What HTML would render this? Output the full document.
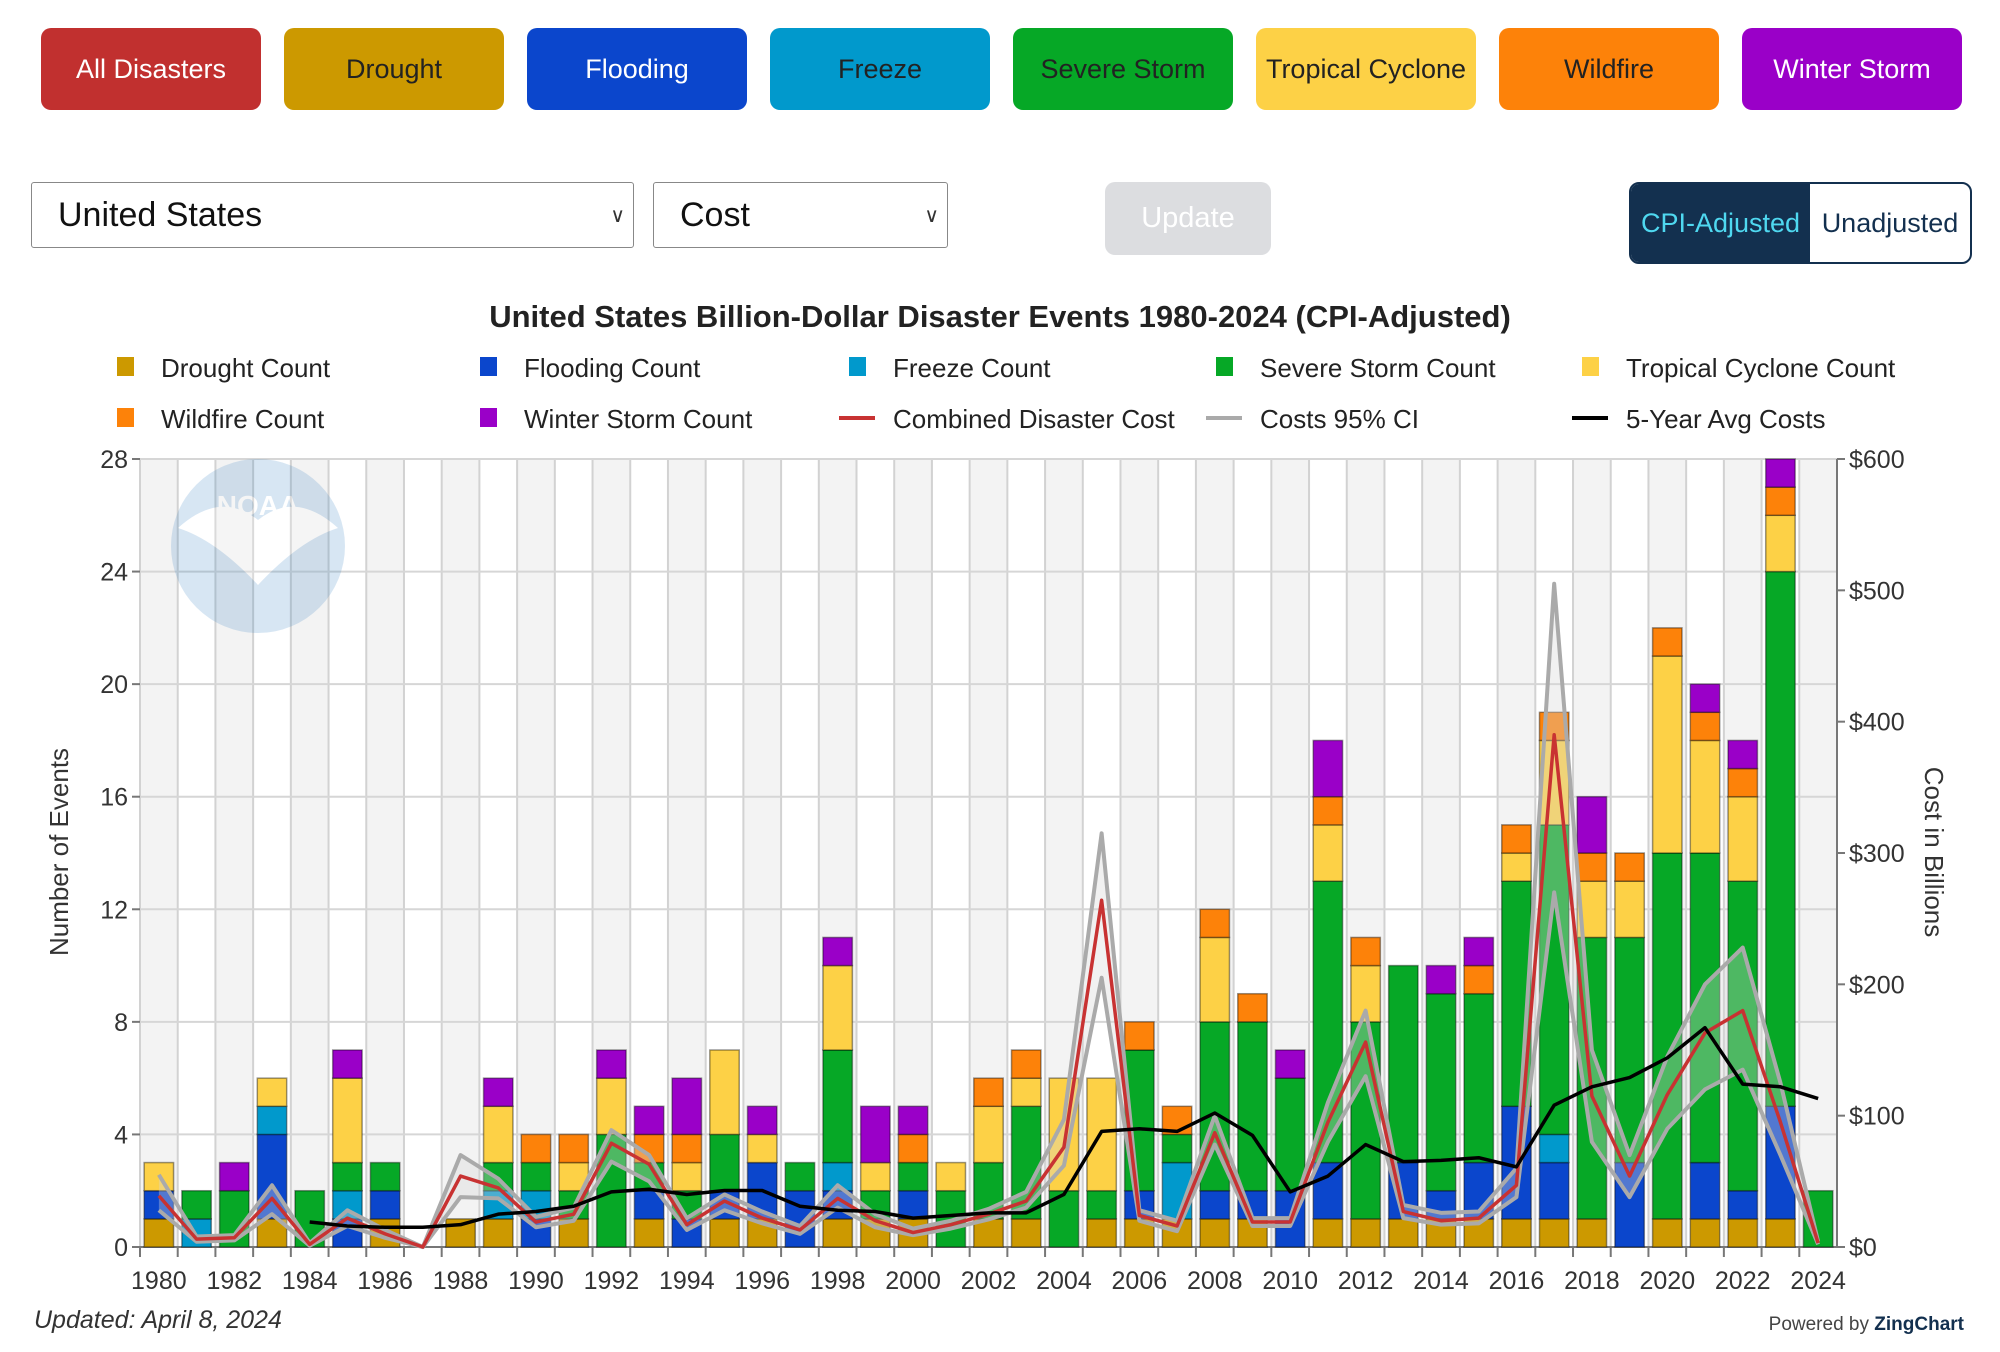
<!DOCTYPE html>
<html><head><meta charset="utf-8"><style>
body{margin:0;width:2000px;height:1352px;background:#fff;font-family:"Liberation Sans",sans-serif;position:relative;overflow:hidden}
.btn{position:absolute;top:28px;height:82px;width:220px;border-radius:10px;display:flex;align-items:center;justify-content:center;font-size:27px;color:#222}
.sel{position:absolute;top:182px;height:66px;border:1.5px solid #888;border-radius:3px;box-sizing:border-box;font-size:34px;display:flex;align-items:center;padding-left:26px;color:#111}
.sel span.ar{position:absolute;right:8px;font-size:20px;color:#333}
</style></head><body>
<div class="btn" style="left:41px;background:#c1302f;color:#fff">All Disasters</div>
<div class="btn" style="left:284px;background:#cc9900">Drought</div>
<div class="btn" style="left:527px;background:#0b46cc;color:#fff">Flooding</div>
<div class="btn" style="left:770px;background:#0199cc">Freeze</div>
<div class="btn" style="left:1013px;background:#06a826">Severe Storm</div>
<div class="btn" style="left:1256px;background:#fdd146">Tropical Cyclone</div>
<div class="btn" style="left:1499px;background:#fd8209">Wildfire</div>
<div class="btn" style="left:1742px;background:#9a00c8;color:#fff">Winter Storm</div>
<div class="sel" style="left:31px;width:603px">United States<span class="ar">&#8744;</span></div>
<div class="sel" style="left:653px;width:295px">Cost<span class="ar">&#8744;</span></div>
<div style="position:absolute;left:1105px;top:182px;width:166px;height:73px;background:#dcdde0;border-radius:10px;color:#fff;font-size:29px;display:flex;align-items:center;justify-content:center">Update</div>
<div style="position:absolute;left:1629px;top:182px;width:343px;height:82px;border:2px solid #13304f;border-radius:10px;box-sizing:border-box;overflow:hidden;display:flex;font-size:27px">
<div style="width:179px;background:#13304f;color:#4fd8f0;display:flex;align-items:center;justify-content:center">CPI-Adjusted</div>
<div style="flex:1;color:#13304f;display:flex;align-items:center;justify-content:center">Unadjusted</div></div>
<svg id="ch" width="2000" height="1352" style="position:absolute;left:0;top:0" font-family="Liberation Sans, sans-serif"></svg>
<script>
const years=[];for(let y=1980;y<=2024;y++)years.push(y);
const drought=[1,0,0,1,0,0,1,0,1,1,0,1,0,1,0,1,1,0,1,1,1,0,1,1,0,1,1,1,1,1,0,1,1,1,1,1,1,1,1,0,1,1,1,1,0];
const flooding=[1,0,0,3,0,1,1,0,0,0,1,0,0,1,1,1,2,2,1,0,1,0,0,0,0,0,1,0,1,1,2,2,0,2,1,2,4,2,0,3,0,2,1,4,0];
const freeze=[0,1,0,1,0,1,0,0,0,1,1,0,0,0,0,0,0,0,1,0,0,0,0,0,0,0,0,2,0,0,0,0,0,0,0,0,0,1,0,0,0,0,0,0,0];
const storm=[0,1,2,0,2,1,1,0,0,1,1,1,4,1,1,2,0,1,4,1,1,2,2,4,2,1,5,1,6,6,4,10,7,7,7,6,8,11,10,8,13,11,11,19,2];
const tropical=[1,0,0,1,0,3,0,0,0,2,0,1,2,0,1,3,1,0,3,1,0,1,2,1,4,4,0,0,3,0,0,2,2,0,0,0,1,3,2,2,7,4,3,2,0];
const wildfire=[0,0,0,0,0,0,0,0,0,0,1,1,0,1,1,0,0,0,0,0,1,0,1,1,0,0,1,1,1,1,0,1,1,0,0,1,1,1,1,1,1,1,1,1,0];
const winter=[0,0,1,0,0,1,0,0,0,1,0,0,1,1,2,0,1,0,1,2,1,0,0,0,0,0,0,0,0,0,1,2,0,0,1,1,0,0,2,0,0,1,1,1,0];
const cost=[39,6,7,37,2,22,10,0,54,45,19,25,79,63,17,35,22,13,37,20,11,17,25,35,76,264,24,16,87,19,19,95,156,27,20,22,47,390,115,54,116,163,180,95,3];
const costHi=[55,8,9,47,3,28,13,0,70,52,23,30,89,70,22,40,27,16,47,25,14,20,29,42,97,315,28,20,100,22,22,110,180,32,26,27,60,505,150,70,145,200,228,125,4];
const costLo=[28,4,5,25,1,16,7,0,38,37,15,20,65,50,13,28,18,10,30,15,9,14,21,30,62,205,20,12,78,16,16,80,130,22,17,18,38,270,80,38,90,120,135,70,2];
const avg5=[null,null,null,null,19,16,15,15,17,25,27,31,42,44,40,43,43,31,28,27,22,24,26,26,40,88,90,88,102,85,42,54,78,65,66,68,61,108,122,129,144,167,124,122,113];
const seriesNames=['Drought','Flooding','Freeze','Severe Storm','Tropical Cyclone','Wildfire','Winter Storm'];
const colors=['#cc9900','#0b46cc','#0199cc','#06a826','#fdd146','#fd8209','#9a00c8'];
const stacks=[drought,flooding,freeze,storm,tropical,wildfire,winter];
const yTicks=[0,4,8,12,16,20,24,28];
const cTicks=[0,100,200,300,400,500,600];

const NS='http://www.w3.org/2000/svg',svg=document.getElementById('ch');
function el(t,a,p){const e=document.createElementNS(NS,t);for(const k in a)e.setAttribute(k,a[k]);(p||svg).appendChild(e);return e;}
function txt(s,a,p){const e=el('text',a,p);e.textContent=s;return e;}
const L=140,R=1837,T=459,B=1247,slot=(R-L)/years.length;
const xc=i=>L+slot*(i+0.5);
const yc=v=>B-(v/28)*(B-T);
const yr=v=>B-(v/600)*(B-T);

const ti=txt('United States Billion-Dollar Disaster Events 1980-2024 (CPI-Adjusted)',{x:1000,y:327,'text-anchor':'middle','font-size':31,'font-weight':'bold',fill:'#222'});

const legItems=[['Drought Count',colors[0],'box'],['Flooding Count',colors[1],'box'],['Freeze Count',colors[2],'box'],['Severe Storm Count',colors[3],'box'],['Tropical Cyclone Count',colors[4],'box'],['Wildfire Count',colors[5],'box'],['Winter Storm Count',colors[6],'box'],['Combined Disaster Cost','#c83232','line'],['Costs 95% CI','#aaa','line'],['5-Year Avg Costs','#000','line']];
const lcx=[125,488,857,1224,1590];
legItems.forEach((it,i)=>{
 const g=el('g',{});
 
 
 const x=lcx[i%5],y=i<5?367:418;
 if(it[2]=='box')el('rect',{x:x-8,y:y-10,width:17,height:19,fill:it[1]},g);
 else el('rect',{x:x-18,y:y-2,width:36,height:4,fill:it[1]},g);
 txt(it[0],{x:x+36,y:y+10,'font-size':26,fill:'#222'},g);
});
years.forEach((y,i)=>{if(i%2==0)el('rect',{x:L+slot*i,y:T,width:slot,height:B-T,fill:'#f3f3f3'});});
for(let i=0;i<=years.length;i++)el('line',{x1:L+slot*i,x2:L+slot*i,y1:T,y2:B,stroke:'#d2d2d2','stroke-width':2});
yTicks.forEach(v=>{el('line',{x1:L,x2:R,y1:yc(v),y2:yc(v),stroke:'#d6d6d6','stroke-width':2});
 txt(v,{x:128,y:yc(v)+9,'text-anchor':'end','font-size':25,fill:'#333'});
 el('line',{x1:L-8,x2:L,y1:yc(v),y2:yc(v),stroke:'#777','stroke-width':2});});
cTicks.forEach(v=>{txt('$'+v,{x:1849,y:yr(v)+9,'font-size':25,fill:'#333'});
 el('line',{x1:R,x2:R+8,y1:yr(v),y2:yr(v),stroke:'#777','stroke-width':2});});
el('line',{x1:R,x2:R,y1:T,y2:B,stroke:'#777','stroke-width':2});
el('line',{x1:L,x2:R,y1:B,y2:B,stroke:'#777','stroke-width':2});
const lg=el('g',{opacity:0.18});

el('circle',{cx:258,cy:546,r:87,fill:'#2a7bc0'},lg);
el('path',{d:'M178,528 Q220,490 258,520 Q296,490 338,528 Q300,540 258,585 Q216,540 178,528Z',fill:'#fff'},lg);
txt('NOAA',{x:258,y:515,'text-anchor':'middle','font-size':28,'font-weight':'bold',fill:'#fff'},lg);
const bw=slot*0.78;
years.forEach((y,i)=>{
 let acc=0;
 stacks.forEach((s,k)=>{const v=s[i];if(!v)return;
  const r=el('rect',{x:xc(i)-bw/2,y:yc(acc+v),width:bw,height:yc(acc)-yc(acc+v),fill:colors[k],stroke:'rgba(0,0,0,0.4)','stroke-width':1.5});
  
  
  acc+=v;});
 if(i%2==0){txt(y,{x:xc(i),y:1289,'text-anchor':'middle','font-size':25,fill:'#333'});}
 el('line',{x1:L+slot*i,x2:L+slot*i,y1:B,y2:B+10,stroke:'#777','stroke-width':2});
});
let d='';years.forEach((y,i)=>{d+=(i?'L':'M')+xc(i)+','+yr(costHi[i]);});
for(let i=years.length-1;i>=0;i--)d+='L'+xc(i)+','+yr(costLo[i]);
const band=el('path',{d:d+'Z',fill:'rgba(215,215,215,0.35)'});

function line(arr,col,w,name){let p='';let st=true;arr.forEach((v,i)=>{if(v==null)return;p+=(st?'M':'L')+xc(i)+','+yr(v);st=false;});
 const e=el('path',{d:p,fill:'none',stroke:col,'stroke-width':w,'stroke-linejoin':'round'});
 }
line(costHi,'#aaa',4,'ci-upper-line');line(costLo,'#aaa',4,'ci-lower-line');
line(cost,'#c83232',3.5,'combined-cost-line');line(avg5,'#000',3.5,'five-year-avg-line');
const a1=txt('Number of Events',{x:0,y:0,transform:'translate(68,852) rotate(-90)','text-anchor':'middle','font-size':26,fill:'#333'});

const a2=txt('Cost in Billions',{x:0,y:0,transform:'translate(1925,852) rotate(90)','text-anchor':'middle','font-size':26,fill:'#333'});

const up=txt('Updated: April 8, 2024',{x:34,y:1328,'font-size':25,'font-style':'italic',fill:'#333'});

const pw=el('text',{x:1964,y:1330,'text-anchor':'end','font-size':19,fill:'#444'});

pw.innerHTML='Powered by <tspan font-weight="bold" fill="#13304f">ZingChart</tspan>';
</script>
</body></html>
